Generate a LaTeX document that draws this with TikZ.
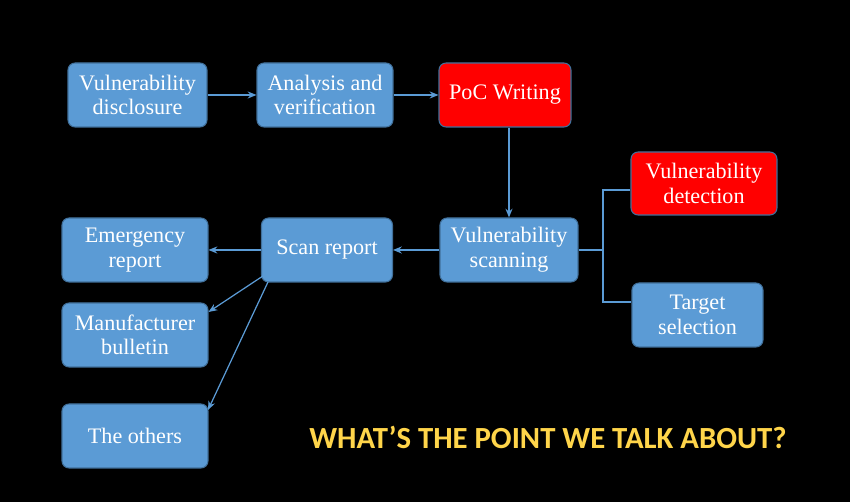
\documentclass[tikz,border=0pt]{standalone}
\usepackage{fontspec}
\setmainfont{Liberation Serif}
\newfontfamily\capfont{Carlito}
\usetikzlibrary{arrows.meta}
\definecolor{bfill}{HTML}{5B9BD5}
\definecolor{bdraw}{HTML}{41719C}
\definecolor{wy}{HTML}{FFD54A}
\begin{document}
\begin{tikzpicture}[x=0.02cm,y=-0.02cm,
  box/.style={draw=bdraw,fill=bfill,rounded corners=4pt,text=white,align=center,font=\fontsize{12.6}{14}\selectfont,inner sep=0pt,line width=0.6pt},
  rbox/.style={box,fill=red,draw=bdraw},
  arr/.style={draw=bfill,line width=0.7pt,-{Stealth[length=5pt,width=4pt]}},
  ln/.style={draw=bfill,line width=0.9pt}]
\fill[black] (0,0) rectangle (850,502);
\useasboundingbox (0,0) rectangle (850,502);
\node[box,minimum width=2.78cm,minimum height=1.28cm] (vd) at (137.5,95) {Vulnerability\\disclosure};
\node[box,minimum width=2.72cm,minimum height=1.28cm] (av) at (325,95) {Analysis and\\verification};
\node[rbox,minimum width=2.64cm,minimum height=1.28cm] (poc) at (505,95) {PoC Writing};
\node[box,minimum width=2.76cm,minimum height=1.28cm] (vs) at (509,250) {Vulnerability\\scanning};
\node[box,minimum width=2.62cm,minimum height=1.28cm] (sr) at (327,250) {Scan report};
\node[box,minimum width=2.92cm,minimum height=1.28cm] (er) at (135,250) {Emergency\\report};
\node[box,minimum width=2.92cm,minimum height=1.28cm] (mb) at (135,335) {Manufacturer\\bulletin};
\node[box,minimum width=2.92cm,minimum height=1.28cm] (to) at (135,436) {The others};
\node[rbox,minimum width=2.92cm,minimum height=1.26cm] (det) at (704,183.5) {Vulnerability\\detection};
\node[box,minimum width=2.62cm,minimum height=1.28cm] (ts) at (697.5,315) {Target\\selection};
\draw[arr] (vd) -- (av);
\draw[arr] (av) -- (poc);
\draw[arr] (poc.south -| vs.north) -- (vs.north);
\draw[arr] (vs) -- (sr);
\draw[arr] (sr) -- (er);
\coordinate (m1) at (272,270);
\coordinate (m2) at (268,282);
\draw[arr] (m1) -- (mb.north east |- 0,312);
\draw[arr] (m2) -- (208,410);
\coordinate (bx) at (603,250);
\draw[ln] (vs.east) -- (bx);
\draw[ln] (det.west |- 0,190) -| (bx) |- (ts.west |- 0,302);
\node[font=\capfont\bfseries\fontsize{17.5}{20}\selectfont,text=wy,draw=none] (q) at (548,437) {WHAT’S THE POINT WE TALK ABOUT?};
\end{tikzpicture}
\end{document}
